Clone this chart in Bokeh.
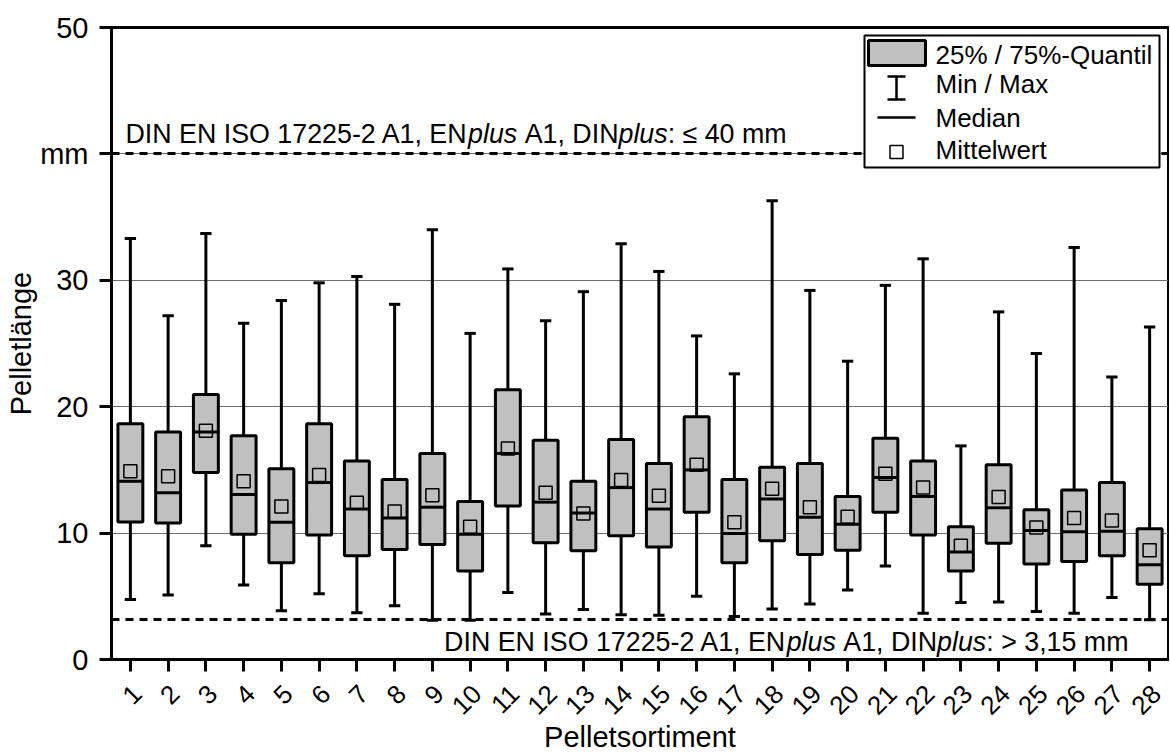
import math
from bokeh.plotting import figure
from bokeh.models import FixedTicker, Range1d, LinearAxis
from bokeh.core.properties import value
from bokeh.embed import file_html
from bokeh.resources import INLINE

# ---------------- data ----------------
sortiment = list(range(1, 29))
q1 = [10.88, 10.8, 14.8, 9.9, 7.65, 9.85, 8.2, 8.7, 9.1, 7.0, 12.15, 9.24, 8.6, 9.8,
      8.9, 11.65, 7.65, 9.4, 8.3, 8.65, 11.65, 9.85, 7.0, 9.2, 7.55, 7.75, 8.2, 5.95]
q3 = [18.65, 18.0, 20.97, 17.7, 15.1, 18.65, 15.7, 14.25, 16.3, 12.5, 21.35, 17.35, 14.1, 17.4,
      15.5, 19.2, 14.25, 15.2, 15.5, 12.9, 17.5, 15.7, 10.5, 15.4, 11.85, 13.4, 14.0, 10.35]
median = [14.1, 13.2, 18.0, 13.05, 10.85, 14.0, 11.9, 11.2, 12.05, 9.9, 16.3, 12.45, 11.6, 13.6,
          11.9, 15.0, 9.97, 12.7, 11.25, 10.7, 14.4, 12.9, 8.5, 12.0, 10.2, 10.1, 10.15, 7.5]
mittelwert = [14.9, 14.5, 18.1, 14.1, 12.1, 14.6, 12.4, 11.7, 13.0, 10.5, 16.7, 13.2, 11.55, 14.2,
              12.95, 15.4, 10.85, 13.5, 12.05, 11.3, 14.7, 13.6, 9.0, 12.85, 10.45, 11.2, 11.0, 8.65]
maximum = [33.3, 27.2, 33.7, 26.6, 28.4, 29.8, 30.3, 28.1, 34.0, 25.8, 30.9, 26.8, 29.1, 32.9,
           30.7, 25.6, 22.6, 36.3, 29.2, 23.6, 29.6, 31.7, 16.9, 27.5, 24.2, 32.6, 22.35, 26.3]
minimum = [4.75, 5.1, 9.0, 5.9, 3.85, 5.2, 3.7, 4.25, 3.1, 3.1, 5.3, 3.6, 3.95, 3.55,
           3.5, 5.0, 3.4, 4.0, 4.4, 5.5, 7.4, 3.65, 4.5, 4.55, 3.8, 3.65, 4.9, 3.15]
y_ticks = [0, 10, 20, 30, 40, 50]
grid_ticks = [10, 20, 30, 40]
limit_upper = 40
limit_lower = 3.15
legend_labels = ["25% / 75%-Quantil", "Min / Max", "Median", "Mittelwert"]

FONT = "Liberation Sans"

# ---------------- layout helpers (page pixel -> data) ----------------
FL, FW, FT, FH = 111, 1057, 27, 632
X0, X1, Y0, Y1 = 0.5, 28.5, 0, 50
LABEL_SHIFT = 0.18   # x tick labels sit slightly right of their ticks in the original


def X(px):
    return X0 + (px - FL) * (X1 - X0) / FW


def Y(py):
    return Y0 + (FT + FH - py) * (Y1 - Y0) / FH


p = figure(frame_width=FW, frame_height=FH,
           x_range=Range1d(X0, X1), y_range=Range1d(Y0, Y1),
           output_backend="svg", toolbar_location=None,
           min_border_left=FL, min_border_top=FT,
           min_border_right=1, min_border_bottom=95)
p.background_fill_color = "white"
p.border_fill_color = "white"
p.outline_line_color = "black"
p.outline_line_width = 3

# grid
p.xgrid.visible = False
p.ygrid.ticker = FixedTicker(ticks=grid_ticks)
p.ygrid.grid_line_color = "#6e6e6e"
p.ygrid.grid_line_width = 1


def style_axis(ax):
    ax.axis_line_width = 3
    ax.axis_line_color = "black"
    ax.major_tick_line_width = 3
    ax.major_tick_line_color = "black"
    ax.major_tick_out = 12
    ax.major_tick_in = 0
    ax.minor_tick_line_color = None
    ax.major_label_text_font = FONT
    ax.major_label_text_color = "black"
    ax.axis_label_text_font = FONT
    ax.axis_label_text_font_style = "normal"
    ax.axis_label_text_color = "black"


style_axis(p.xaxis[0])
style_axis(p.yaxis[0])

p.yaxis.ticker = FixedTicker(ticks=y_ticks)
p.yaxis.major_label_overrides = {40: "mm"}
p.yaxis.major_label_text_font_size = "29px"
p.yaxis.major_label_standoff = 11
p.yaxis.axis_label = "Pelletlänge"
p.yaxis.axis_label_text_font_size = "29px"
p.yaxis.axis_label_standoff = 0

# main x axis: tick marks only (its own labels are not painted)
p.xaxis.ticker = FixedTicker(ticks=sortiment)
p.xaxis.major_label_text_color = None
p.xaxis.major_label_text_font_size = "1px"
p.xaxis.major_label_standoff = 0

# label axis (same categories, labels nudged right like the original)
p.extra_x_ranges = {"lab": Range1d(X0 - LABEL_SHIFT, X1 - LABEL_SHIFT)}
lab_axis = LinearAxis(x_range_name="lab", ticker=FixedTicker(ticks=sortiment))
style_axis(lab_axis)
lab_axis.axis_line_color = None
lab_axis.major_tick_line_color = None
lab_axis.major_tick_out = 0
lab_axis.major_label_orientation = math.pi / 4
lab_axis.major_label_text_font_size = "26px"
lab_axis.major_label_standoff = 18
lab_axis.axis_label = "Pelletsortiment"
lab_axis.axis_label_text_font_size = "29px"
lab_axis.axis_label_standoff = -5
p.add_layout(lab_axis, "below")

# limit lines
p.hspan(y=[limit_upper, limit_lower], line_color="black", line_width=3, line_dash="8 6")

# boxes
BOX_W = 0.66
CAP_W = 0.3
lw = 3
p.segment(x0=sortiment, y0=minimum, x1=sortiment, y1=maximum, line_color="black", line_width=lw)
xl = [s - CAP_W / 2 for s in sortiment]
xr = [s + CAP_W / 2 for s in sortiment]
p.segment(x0=xl, y0=maximum, x1=xr, y1=maximum, line_color="black", line_width=lw)
p.segment(x0=xl, y0=minimum, x1=xr, y1=minimum, line_color="black", line_width=lw)
p.vbar(x=sortiment, bottom=q1, top=q3, width=BOX_W, fill_color="#c0c0c0",
       line_color="black", line_width=lw)
bl = [s - BOX_W / 2 for s in sortiment]
br = [s + BOX_W / 2 for s in sortiment]
p.segment(x0=bl, y0=median, x1=br, y1=median, line_color="black", line_width=lw)
p.scatter(x=sortiment, y=mittelwert, marker="square", size=13, fill_color=None,
          line_color="black", line_width=1.5)

# ---------------- mixed italic annotation texts ----------------
AW = {' ': 278, 'D': 722, 'I': 278, 'N': 722, 'E': 667, 'S': 667, 'O': 778, '-': 333,
      'A': 667, ',': 278, 'p': 556, 'l': 222, 'u': 556, 's': 500, ':': 278, '≤': 549,
      '>': 584, 'm': 833}
for d in "0123456789":
    AW[d] = 556

TS = 26.8


def tw(s):
    return sum(AW.get(c, 556) for c in s) * TS / 1000


def draw_mixed(segs, x_data, y_data, start_px):
    off = start_px
    for s, style in segs:
        lead = len(s) - len(s.lstrip(" "))
        core = s.strip(" ")
        p.text(x=[x_data], y=[y_data], text=[core], x_offset=[off + tw(" " * lead)],
               text_font=value(FONT), text_font_style=style, text_font_size=f"{TS}px",
               text_color="black", text_baseline="alphabetic", text_align="left")
        off += tw(s)
    return off


segs_upper = [("DIN EN ISO 17225-2 A1, EN", "normal"), ("plus", "italic"), (" A1, DIN", "normal"),
              ("plus", "italic"), (": ≤ 40 mm", "normal")]
segs_lower = [("DIN EN ISO 17225-2 A1, EN", "normal"), ("plus", "italic"), (" A1, DIN", "normal"),
              ("plus", "italic"), (": > 3,15 mm", "normal")]
draw_mixed(segs_upper, X(125), Y(133.5), 0)
total_lower = sum(tw(s) for s, _ in segs_lower)
draw_mixed(segs_lower, X(1128), Y(641), -total_lower)

# ---------------- legend (drawn in plot) ----------------
p.quad(left=[X(864)], right=[X(1159)], top=[Y(35)], bottom=[Y(167)],
       fill_color="white", line_color="black", line_width=2)
p.quad(left=[X(868)], right=[X(925)], top=[Y(40)], bottom=[Y(65)],
       fill_color="#c0c0c0", line_color="black", line_width=3)
p.segment(x0=[X(896), X(887), X(887)], y0=[Y(76), Y(76), Y(99)],
          x1=[X(896), X(905), X(905)], y1=[Y(99), Y(76), Y(99)],
          line_color="black", line_width=2.5)
p.segment(x0=[X(877)], y0=[Y(117)], x1=[X(915)], y1=[Y(117)], line_color="black", line_width=2.5)
p.scatter(x=[X(896)], y=[Y(151.5)], marker="square", size=13, fill_color=None,
          line_color="black", line_width=1.5)
p.text(x=[X(935)] * 4, y=[Y(54), Y(83.5), Y(117), Y(149.5)], text=legend_labels,
       text_font=value(FONT), text_font_size="26px", text_color="black",
       text_baseline="alphabetic", text_align="left")

open("out.html", "w").write(file_html(p, INLINE))
